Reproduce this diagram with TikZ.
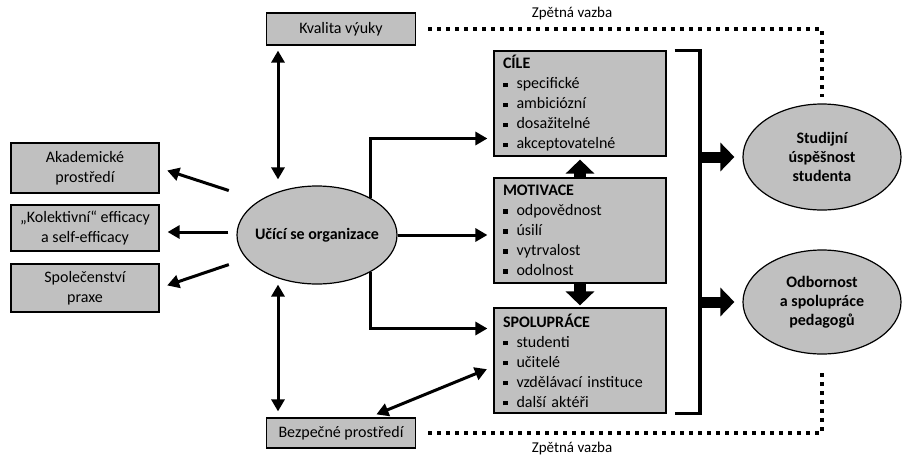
\documentclass[tikz,border=0pt]{standalone}
\usepackage{fontspec}
\setmainfont{Carlito}
\usetikzlibrary{arrows.meta,shapes.geometric}
\definecolor{boxgray}{RGB}{192,192,192}
\newcommand{\bul}{\rule[1.8pt]{4.5pt}{4.5pt}\hspace{9pt}}

\begin{document}
\begin{tikzpicture}[x=1pt, y=-1pt, font=\fontsize{16}{20}\selectfont,
  box/.style={draw, line width=1.2pt, fill=boxgray, align=center, inner sep=0pt},
  listbox/.style={box, align=left, minimum width=172pt, minimum height=105pt, text width=154pt},
  oval/.style={box, ellipse, font=\fontsize{16}{19}\selectfont\bfseries},
  arr/.style={line width=3pt, -{Triangle[length=12pt,width=13pt]}},
  darr/.style={line width=3pt, {Triangle[length=12pt,width=13pt]}-{Triangle[length=12pt,width=13pt]}},
  fat/.style={line width=12pt, -{Triangle[length=14pt,width=28pt]}},
  feedback/.style={line width=4pt, dash pattern=on 4pt off 5pt}]
  \useasboundingbox (0,0) rectangle (903,456);

  % left column
  \node[box, minimum width=148pt, minimum height=50pt] (akad) at (85,168) {Akademické\\prostředí};
  \node[box, minimum width=148pt, minimum height=46pt] (kolekt) at (85,228) {„Kolektivní“ efficacy\\a self-efficacy};
  \node[box, minimum width=148pt, minimum height=48pt] (spolec) at (85,288) {Společenství\\praxe};

  \node[box, minimum width=149pt, minimum height=32pt] (kvalita) at (341,29) {Kvalita výuky};
  \node[box, minimum width=149pt, minimum height=30pt] (bezp) at (341,433) {Bezpečné prostředí};
  \node[oval, minimum width=160pt, minimum height=98pt] (org) at (317,235) {\makebox[0pt]{Učící se organizace}};

  % middle column
  \node[listbox] (cile) at (580,103.5) {\textbf{CÍLE}\\\bul specifické\\\bul ambiciózní\\\bul dosažitelné\\\bul akceptovatelné};
  \node[listbox] (motiv) at (580,230.5) {\textbf{MOTIVACE}\\\bul odpovědnost\\\bul úsilí\\\bul vytrvalost\\\bul odolnost};
  \node[listbox] (spolup) at (580,360.5) {\textbf{SPOLUPRÁCE}\\\bul studenti\\\bul učitelé\\\bul vzdělávací instituce\\\bul další aktéři};

  % outcomes
  \node[oval, minimum width=158pt, minimum height=106pt] (studijni) at (822,157) {Studijní\\úspěšnost\\studenta};
  \node[oval, minimum width=158pt, minimum height=104pt] (odbor) at (822,302) {Odbornost\\a spolupráce\\pedagogů};

  \node[font=\fontsize{15}{18}\selectfont] (zpet1) at (572,13) {Zpětná vazba};
  \node[font=\fontsize{15}{18}\selectfont] (zpet2) at (572,448) {Zpětná vazba};

  % arrows
  \draw[arr, shorten <=8pt, shorten >=8pt] ([yshift=42pt]org.west) -- (akad.east);
  \draw[arr, shorten <=8pt, shorten >=8pt] ([yshift=3pt]org.west) -- ([yshift=3pt]org.west -| kolekt.east);
  \draw[arr, shorten <=8pt, shorten >=8pt] ([yshift=-27pt]org.west) -- (spolec.east);

  \draw[darr, shorten <=5pt, shorten >=6pt] ([xshift=-63pt]kvalita.south) -- ([xshift=-63pt]kvalita.south |- org.north);
  \draw[darr, shorten >=6pt] ([xshift=-39pt]org.south) -- ([xshift=-39pt]org.south |- bezp.north);
  \draw[darr, shorten <=8pt, shorten >=7pt] ([xshift=28pt]bezp.north) -- ([yshift=-6pt]spolup.west);

  \draw[arr, shorten >=6pt] (org.35) |- ([yshift=-35pt]cile.west);
  \draw[arr, shorten >=6pt] (org.east) -- (org.east -| motiv.west);
  \draw[arr, shorten >=6pt] (org.-35) |- ([yshift=32pt]spolup.west);

  \draw[fat, shorten >=3pt] (motiv.north) -- (cile.south);
  \draw[fat, shorten >=2pt] (motiv.south) -- (spolup.north);

  % bracket
  \coordinate (brk) at (700,52);
  \draw[line width=3.5pt] ([xshift=8pt]cile.north east) -| (brk |- spolup.south east) -- ([xshift=8pt]spolup.south east);
  \draw[fat, line width=11pt, shorten >=8pt] (brk |- studijni.west) -- (studijni.west);
  \draw[fat, line width=11pt, shorten >=8pt] (brk |- odbor.west) -- (odbor.west);

  % feedback
  \draw[feedback] ([xshift=12pt]kvalita.east) -| ([yshift=6pt]studijni.north);
  \draw[feedback] ([xshift=12pt]bezp.east) -| ([yshift=-14pt]odbor.south);
\end{tikzpicture}
\end{document}
